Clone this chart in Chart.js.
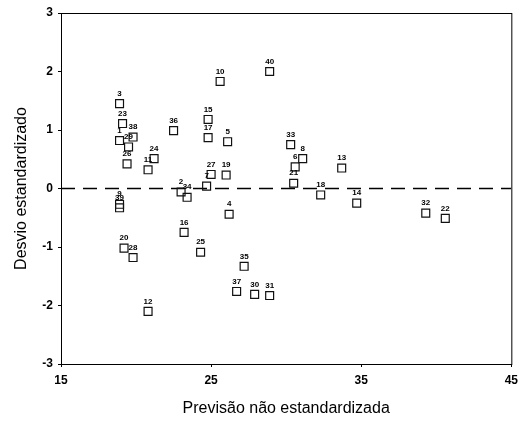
<!DOCTYPE html>
<html>
<head>
<meta charset="utf-8">
<script src="https://cdn.jsdelivr.net/npm/chart.js@4/dist/chart.umd.min.js"></script>
<style>
  html, body { margin: 0; padding: 0; background: #fff; }
  #wrap { width: 524px; height: 430px; }
</style>
</head>
<body>
<div id="wrap"><canvas id="scatter"></canvas></div>
<script>
// case labels, predicted value (x) and standardized residual (y)
const caseLabels = ['3', '23', '38', '1', '29', '26', '24', '11', '9', '39',
    '20', '28', '12', '36', '10', '40', '15', '17', '5', '27',
    '7', '19', '2', '34', '4', '16', '25', '35', '37', '30',
    '31', '33', '8', '6', '21', '13', '18', '14', '32', '22'];
const predicted = [18.9, 19.1, 19.8, 18.9, 19.5, 19.4, 21.2, 20.8, 18.9, 18.9,
    19.2, 19.8, 20.8, 22.5, 25.6, 28.9, 24.8, 24.8, 26.1, 25.0,
    24.7, 26.0, 23.0, 23.4, 26.2, 23.2, 24.3, 27.2, 26.7, 27.9,
    28.9, 30.3, 31.1, 30.6, 30.5, 33.7, 32.3, 34.7, 39.3, 40.6];
const residuals = [1.45, 1.11, 0.88, 0.82, 0.71, 0.42, 0.51, 0.32, -0.27, -0.33,
    -1.02, -1.18, -2.10, 0.99, 1.83, 2.00, 1.18, 0.87, 0.80, 0.24,
    0.04, 0.23, -0.06, -0.15, -0.44, -0.75, -1.09, -1.33, -1.76, -1.81,
    -1.83, 0.75, 0.51, 0.37, 0.09, 0.35, -0.11, -0.25, -0.42, -0.51];

// reference line
const refX = [15, 45];
const refY = [0, 0];

const xTicks = [15, 25, 35, 45];
const yTicks = [-3, -2, -1, 0, 1, 2, 3];

const points = predicted.map((x, i) => ({ x: x, y: residuals[i] }));
const refLine = refX.map((x, i) => ({ x: x, y: refY[i] }));

// box around plot area + point labels
const frameAndLabels = {
    id: 'frameAndLabels',
    afterDatasetsDraw(chart) {
        const ctx = chart.ctx;
        const a = chart.chartArea;
        ctx.save();
        ctx.strokeStyle = '#000';
        ctx.lineWidth = 1;
        ctx.strokeRect(a.left + 0.5, a.top + 0.5, a.right - a.left, a.bottom - a.top);

        const meta = chart.getDatasetMeta(0);
        ctx.font = 'bold 8px "Liberation Sans", Arial, sans-serif';
        ctx.fillStyle = '#000';
        ctx.textAlign = 'center';
        ctx.textBaseline = 'bottom';
        meta.data.forEach((pt, i) => {
            ctx.fillText(caseLabels[i], pt.x, pt.y - 6);
        });
        ctx.restore();
    }
};

const fontFam = '"Liberation Sans", Arial, sans-serif';

new Chart('scatter', {
    type: 'scatter',
    data: {
        datasets: [{
            label: 'Casos',
            data: points,
            pointStyle: 'rect',
            radius: 5.6,
            borderColor: '#111',
            borderWidth: 1.2,
            backgroundColor: 'rgba(255,255,255,0)'
        }, {
            label: 'Zero',
            type: 'line',
            data: refLine,
            borderColor: '#000',
            borderWidth: 1.6,
            borderDash: [14, 8],
            pointRadius: 0,
            fill: false
        }]
    },
    options: {
        responsive: true,
        maintainAspectRatio: false,
        animation: false,
        events: [],
        layout: { padding: { left: 0, top: 13, right: 7, bottom: 0 } },
        plugins: {
            legend: { display: false },
            tooltip: { enabled: false }
        },
        scales: {
            x: {
                type: 'linear',
                min: 15,
                max: 45,
                afterBuildTicks: s => { s.ticks = xTicks.map(v => ({ value: v })); },
                afterFit: s => { s.height = 66; },
                grid: { drawOnChartArea: false, tickLength: 3, color: '#000' },
                border: { display: true, color: '#000' },
                ticks: {
                    padding: 6,
                    color: '#000',
                    font: { family: fontFam, size: 12, weight: 'bold' }
                },
                title: {
                    display: true,
                    text: 'Previsão não estandardizada',
                    color: '#000',
                    font: { family: fontFam, size: 16 },
                    padding: { top: 0, bottom: 12 }
                }
            },
            y: {
                type: 'linear',
                min: -3,
                max: 3,
                afterBuildTicks: s => { s.ticks = yTicks.map(v => ({ value: v })); },
                afterFit: s => { s.width = 61; },
                grid: { drawOnChartArea: false, tickLength: 3, color: '#000' },
                border: { display: true, color: '#000' },
                ticks: {
                    padding: 5,
                    color: '#000',
                    font: { family: fontFam, size: 12, weight: 'bold' }
                },
                title: {
                    display: true,
                    text: 'Desvio estandardizado',
                    color: '#000',
                    font: { family: fontFam, size: 16 },
                    padding: { top: 12, bottom: 0 }
                }
            }
        }
    },
    plugins: [frameAndLabels]
});
</script>
</body>
</html>
